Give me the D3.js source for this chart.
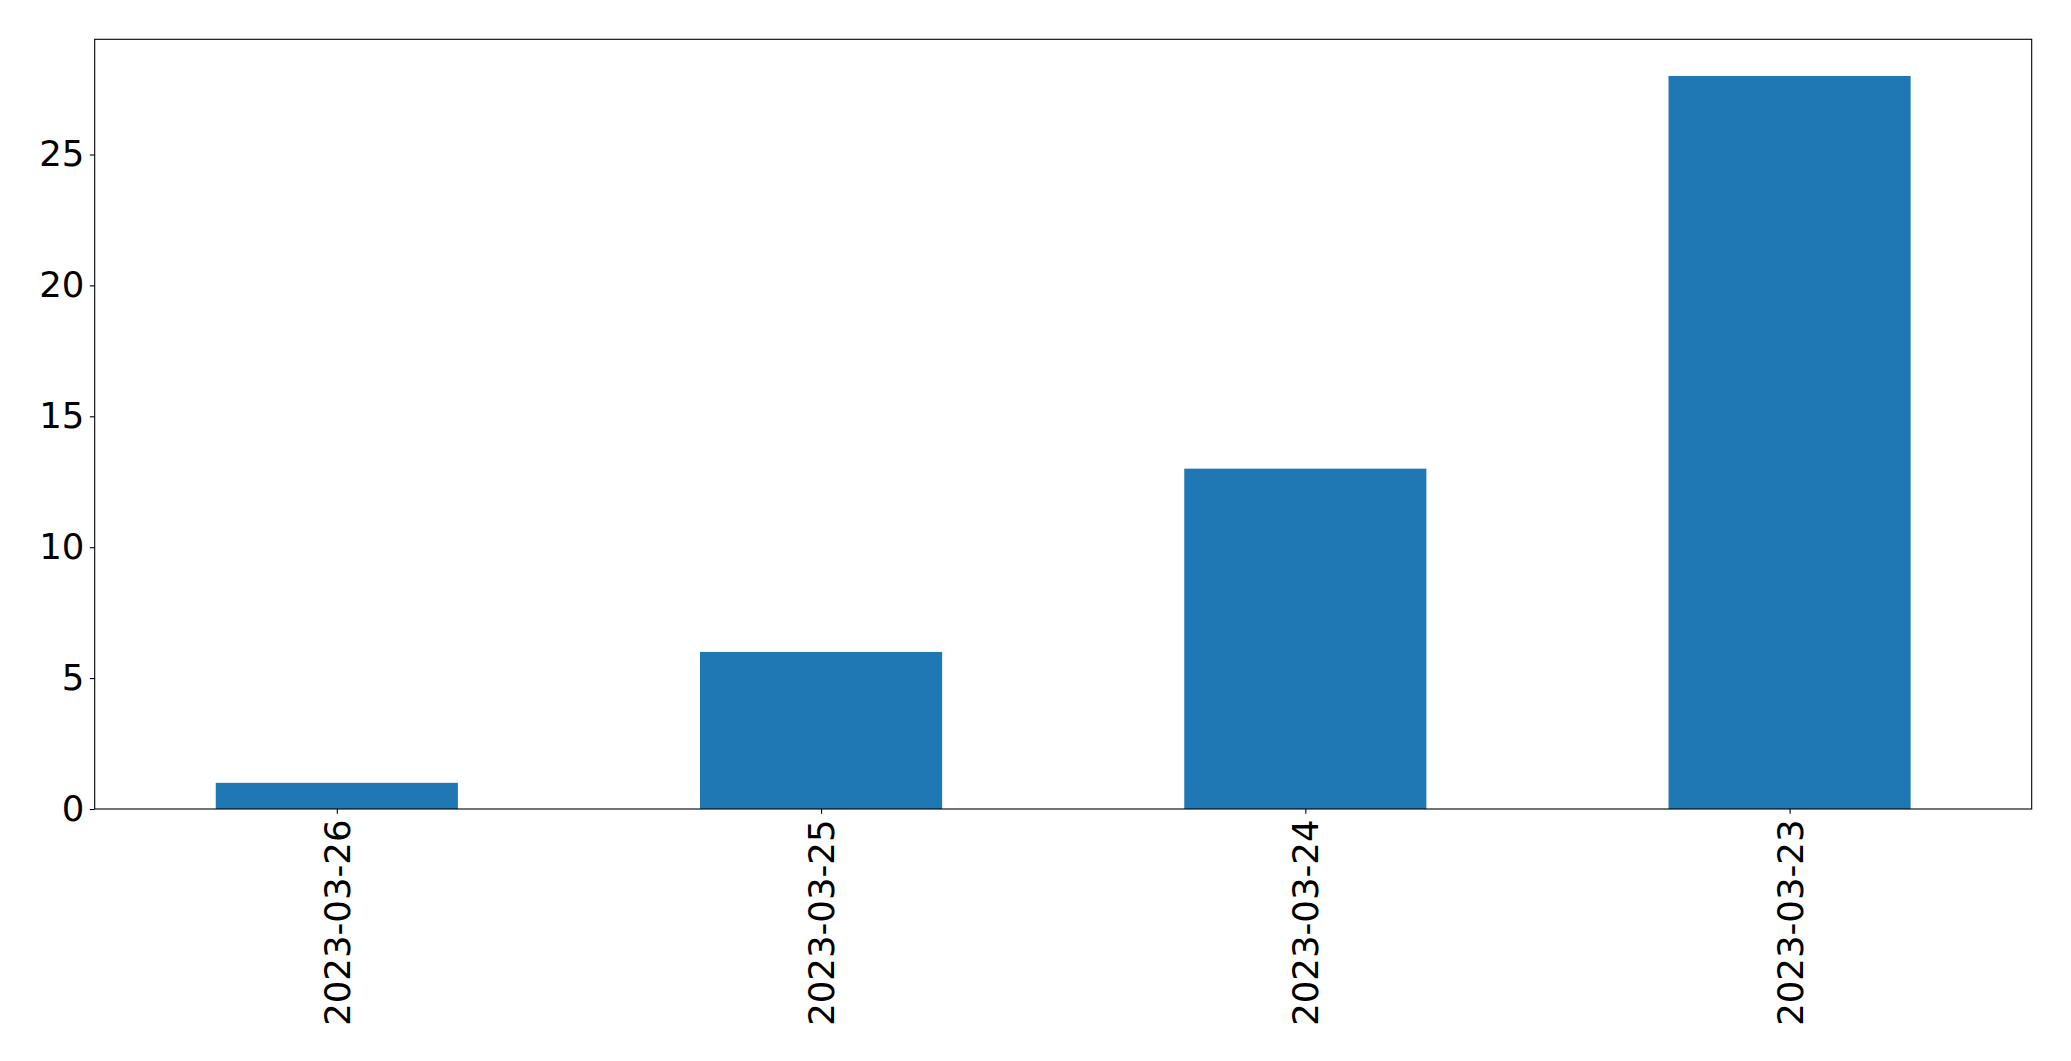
<!DOCTYPE html>
<html><head><meta charset="utf-8">
<script src="https://cdn.jsdelivr.net/npm/d3@7"></script>
<style>body{margin:0;background:#fff}svg{display:block}text{font-family:"DejaVu Sans",sans-serif;fill:#000}</style>
</head><body><svg id="c" width="2071" height="1061"></svg>
<script>
const categories = ["2023-03-26","2023-03-25","2023-03-24","2023-03-23"];
const values = [1, 6, 13, 28];
const yTicks = [0, 5, 10, 15, 20, 25];

const W = 2071, H = 1061;
const m = {left: 94.7, top: 39.3, right: 2031.7, bottom: 809};
const svg = d3.select("#c");
const x = d3.scaleLinear().domain([-0.5, categories.length - 0.5]).range([m.left, m.right]);
const y = d3.scaleLinear().domain([0, 29.4]).range([m.bottom, m.top]);
const bw = 0.5;

svg.append("g").selectAll("rect").data(values).join("rect")
  .attr("x", (d,i) => x(i - bw/2))
  .attr("width", (d,i) => x(i + bw/2) - x(i - bw/2))
  .attr("y", d => y(d))
  .attr("height", d => y(0) - y(d))
  .attr("fill", "#1f77b4");

const fs = 35.5;
const yAxis = d3.axisLeft(y).tickValues(yTicks).tickSize(4.86).tickPadding(5.5).tickFormat(d3.format("d"));
const gy = svg.append("g").attr("transform", `translate(${m.left},0)`).call(yAxis);
gy.select(".domain").remove();
gy.selectAll("line").attr("stroke", "#000").attr("stroke-width", 1.1);
gy.selectAll("text").attr("font-size", fs).attr("font-family", "DejaVu Sans");

const xAxis = d3.axisBottom(x).tickValues(d3.range(categories.length)).tickSize(4.86).tickPadding(4.86).tickFormat(i => categories[i]);
const gx = svg.append("g").attr("transform", `translate(0,${m.bottom})`).call(xAxis);
gx.select(".domain").remove();
gx.selectAll("line").attr("stroke", "#000").attr("stroke-width", 1.1);
gx.selectAll("text").attr("font-size", fs).attr("font-family", "DejaVu Sans")
  .attr("transform", "rotate(-90)")
  .attr("text-anchor", "end")
  .attr("x", -10.5).attr("y", 0).attr("dy", "0.35em");

svg.append("rect").attr("x", m.left).attr("y", m.top)
  .attr("width", m.right - m.left).attr("height", m.bottom - m.top)
  .attr("fill", "none").attr("stroke", "#000").attr("stroke-width", 1.1);
</script></body></html>
